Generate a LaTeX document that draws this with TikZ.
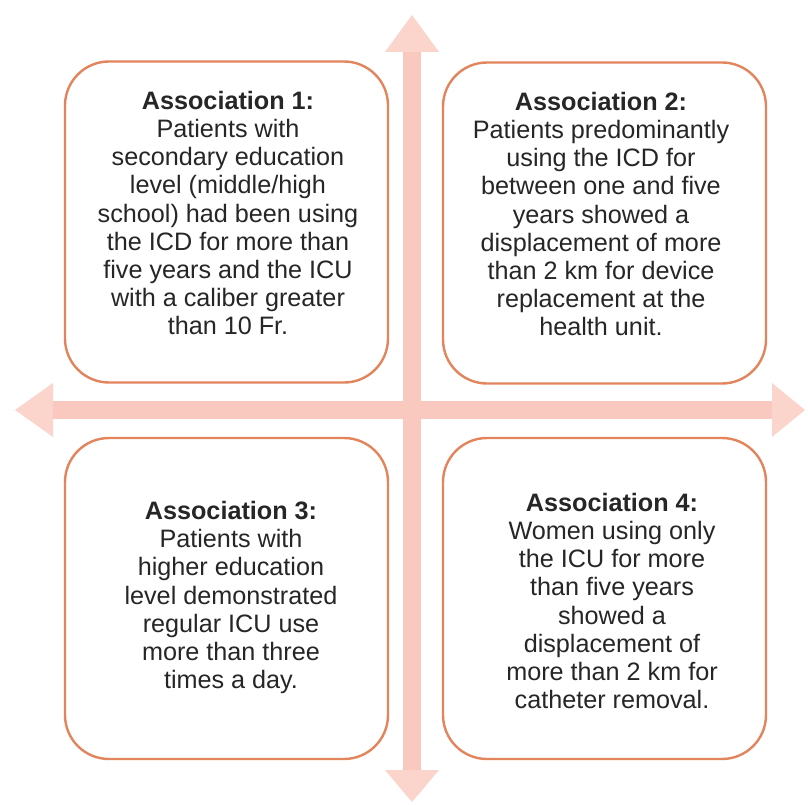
\documentclass[tikz,border=0pt]{standalone}
\usepackage{fontspec}
\setmainfont{Liberation Sans}
\definecolor{boxline}{RGB}{226,132,92}
\definecolor{arrowfill}{RGB}{249,200,190}
\definecolor{headfill}{RGB}{251,212,204}
\definecolor{txt}{RGB}{38,38,38}
\tikzset{
  assocbox/.style={draw=boxline, line width=2.4pt, fill=white, rounded corners=44pt,
    minimum width=323pt, minimum height=321pt, inner sep=0pt},
  assoctext/.style={align=center, text=txt, inner sep=0pt,
    font=\fontsize{25.2}{28.2}\selectfont},
  arrowshape/.style={fill=arrowfill, draw=none},
  headshape/.style={fill=headfill, draw=none}
}
\begin{document}
\begin{tikzpicture}[x=1pt,y=-1pt]
\useasboundingbox (0,0) rectangle (808,805);
\fill[white] (0,0) rectangle (808,805);
% arrows
\coordinate (c) at (412,410);
\fill[arrowshape] (50,401) rectangle (775,419);
\fill[arrowshape] (403,50) rectangle (421,772);
\fill[headshape] (15,410) -- (53,383) -- (53,437) -- cycle;
\fill[headshape] (805,410) -- (772,383) -- (772,437) -- cycle;
\fill[headshape] (412,15) -- (385,52) -- (439,52) -- cycle;
\fill[headshape] (412,802) -- (385,770) -- (439,770) -- cycle;
% boxes
\node[assocbox] (b1) at (226.5,222) {};
\node[assocbox] (b2) at (604.5,223) {};
\node[assocbox] (b3) at (226.5,598.5) {};
\node[assocbox] (b4) at (604.5,598.5) {};
% texts
\node[assoctext] (t1) at (228,213) {\textbf{Association 1:}\\Patients with\\secondary education\\level (middle/high\\school) had been using\\the ICD for more than\\five years and the ICU\\with a caliber greater\\than 10 Fr.};
\node[assoctext] (t2) at (601,214) {\textbf{Association 2:}\\Patients predominantly\\using the ICD for\\between one and five\\years showed a\\displacement of more\\than 2 km for device\\replacement at the\\health unit.};
\node[assoctext] (t3) at (231,597.5) {\textbf{Association 3:}\\Patients with\\higher education\\level demonstrated\\regular ICU use\\more than three\\times a day.};
\node[assoctext] (t4) at (612,601) {\textbf{Association 4:}\\Women using only\\the ICU for more\\than five years\\showed a\\displacement of\\more than 2 km for\\catheter removal.};
\end{tikzpicture}
\end{document}
